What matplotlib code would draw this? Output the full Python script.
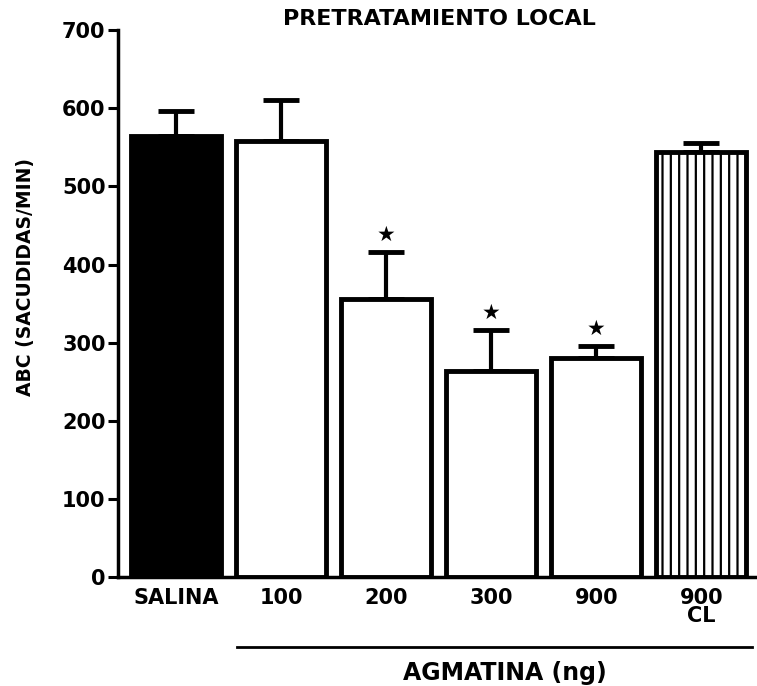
import matplotlib
matplotlib.use('Agg')
import matplotlib.pyplot as plt

plt.rcParams['font.family'] = ['DejaVu Sans']
plt.rcParams['font.weight'] = 'bold'
plt.rcParams['hatch.linewidth'] = 1.6

# values
labels = ['SALINA', '100', '200', '300', '900', '900\nCL']
means = [565, 558, 356, 264, 280, 544]
errors = [32, 52, 60, 52, 16, 12]
signif = [False, False, True, True, True, False]
y_ticks = [0, 100, 200, 300, 400, 500, 600, 700]

fig = plt.figure(figsize=(7.57, 6.86), dpi=100)
ax = fig.add_axes([0.156, 0.159, 0.844, 0.797])

x = list(range(len(means)))
faces = ['black', 'white', 'white', 'white', 'white', 'white']
hatches = [None, None, None, None, None, '||']
for i in x:
    ax.bar(i, means[i], width=0.86, color=faces[i], edgecolor='black',
           linewidth=3.5, hatch=hatches[i], zorder=2)
    ax.errorbar(i, means[i], yerr=[[0], [errors[i]]], fmt='none',
                ecolor='black', elinewidth=3, capsize=13, capthick=3.5, zorder=1)
    if signif[i]:
        ax.text(i, means[i] + errors[i] + 9, '\u2605', ha='center', va='bottom',
                fontsize=15)

ax.set_xlim(-0.55, 5.53)
ax.set_ylim(0, 700)
ax.set_yticks(y_ticks)
ax.set_xticks(x)
ax.set_xticklabels(labels, fontsize=15, fontweight='bold', linespacing=0.85)
ax.tick_params(axis='x', length=0, pad=8)
ax.tick_params(axis='y', length=7, width=2.2, labelsize=15, pad=2)
for lab in ax.get_yticklabels():
    lab.set_fontweight('bold')

ax.spines['top'].set_visible(False)
ax.spines['right'].set_visible(False)
ax.spines['left'].set_linewidth(2.5)
ax.spines['bottom'].set_linewidth(2.5)

ax.set_ylabel('ABC (SACUDIDAS/MIN)', fontsize=13.5, fontweight='bold')
ax.yaxis.set_label_coords(-0.13, 0.548)
fig.text(0.581, 0.972, 'PRETRATAMIENTO LOCAL', ha='center', va='center',
         fontsize=16, fontweight='bold')

# bracket line under agmatine doses
fig.add_artist(plt.Line2D([0.313, 0.993], [0.057, 0.057], color='black', linewidth=2))
fig.text(0.667, 0.019, 'AGMATINA (ng)', ha='center', va='center',
         fontsize=17, fontweight='bold')

fig.savefig('out.png', dpi=100)
